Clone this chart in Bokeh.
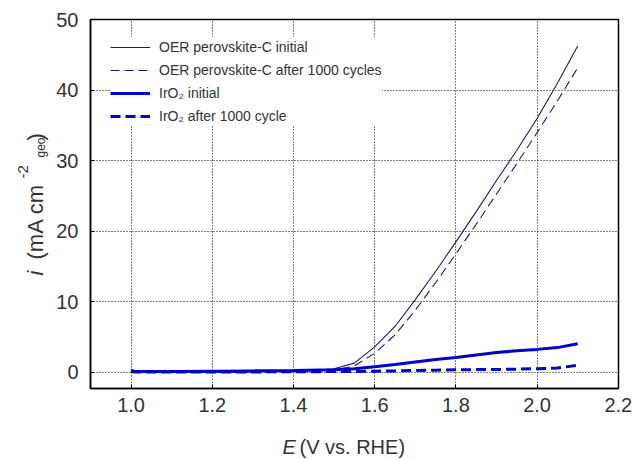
import math
from bokeh.plotting import figure
from bokeh.models import Range1d, FixedTicker, Legend, LegendItem
from bokeh.layouts import row, column
from bokeh.core.properties import value
from bokeh.embed import file_html
from bokeh.resources import INLINE

# ---- data ----
E_oer = [1.0, 1.1, 1.2, 1.3, 1.4, 1.45, 1.5, 1.55, 1.6, 1.65, 1.7, 1.75, 1.8, 1.85, 1.9, 1.95, 2.0, 2.05, 2.1]
oer_initial = [0.05, 0.05, 0.05, 0.1, 0.15, 0.25, 0.5, 1.3, 3.6, 6.5, 10.3, 14.3, 18.5, 22.8, 27.2, 31.5, 36.0, 41.0, 46.3]
oer_after = [0.05, 0.05, 0.05, 0.08, 0.12, 0.18, 0.3, 0.9, 2.7, 5.3, 8.8, 12.7, 16.8, 21.0, 25.3, 29.6, 34.0, 38.5, 43.2]

E_ir = [1.0, 1.01, 1.1, 1.2, 1.3, 1.4, 1.5, 1.55, 1.6, 1.65, 1.7, 1.75, 1.8, 1.85, 1.9, 1.95, 2.0, 2.05, 2.1]
ir_initial = [0.3, 0.1, 0.1, 0.15, 0.2, 0.25, 0.35, 0.5, 0.8, 1.1, 1.45, 1.8, 2.1, 2.45, 2.8, 3.05, 3.25, 3.5, 4.05]
ir_after = [0.1, 0.05, 0.05, 0.05, 0.05, 0.08, 0.1, 0.12, 0.15, 0.2, 0.25, 0.3, 0.35, 0.38, 0.4, 0.45, 0.5, 0.6, 1.0]

x_ticks = [1.0, 1.2, 1.4, 1.6, 1.8, 2.0, 2.2]
y_ticks = [0, 10, 20, 30, 40, 50]
legend_labels = ["OER perovskite-C initial", "OER perovskite-C after 1000 cycles",
                 "IrO\u2082 initial", "IrO\u2082 after 1000 cycle"]

FONT = "Liberation Sans"
TXT = "#333333"

X0, X1 = 0.9, 2.2005
Y0, Y1 = -2.3, 50.05

W, H = 634, 459
LW = 50          # width of the left title strip
BH = 32          # height of the bottom title strip
TH = H - BH      # height of the top row
FL, FT, FW, FH = 90, 19, 528, 369   # frame position on the page

p = figure(width=W - LW, height=TH, output_backend="svg", toolbar_location=None,
           x_range=Range1d(X0, X1), y_range=Range1d(Y0, Y1),
           min_border_left=FL - LW, min_border_top=FT,
           min_border_right=W - FL - FW, min_border_bottom=TH - FT - FH)
p.background_fill_color = "white"
p.border_fill_color = "white"
p.outline_line_color = "black"
p.outline_line_width = 1.5

for ax in (p.xaxis[0], p.yaxis[0]):
    ax.major_tick_in = 4
    ax.major_tick_out = 0
    ax.minor_tick_line_color = None
    ax.axis_line_color = "black"
    ax.axis_line_width = 1.5
    ax.major_tick_line_color = "black"
    ax.major_label_text_font = FONT
    ax.major_label_text_font_size = "20px"
    ax.major_label_text_color = TXT
p.xaxis[0].major_label_standoff = 9
p.yaxis[0].major_label_standoff = 12
p.xaxis[0].ticker = FixedTicker(ticks=x_ticks)
p.yaxis[0].ticker = FixedTicker(ticks=y_ticks)
p.xaxis[0].major_label_overrides = {t: f"{t:.1f}" for t in x_ticks}

for g in (p.xgrid[0], p.ygrid[0]):
    g.grid_line_color = "black"
    g.grid_line_dash = "1 2"
    g.grid_line_width = 1

NAVY = "#1a1a6e"
BLUE = "#0000c8"
r1 = p.line(E_oer, oer_initial, line_color=NAVY, line_width=1.1)
r2 = p.line(E_oer, oer_after, line_color=NAVY, line_width=1.1, line_dash="9 5")
r3 = p.line(E_ir, ir_initial, line_color=BLUE, line_width=3)
r4 = p.line(E_ir, ir_after, line_color=BLUE, line_width=3, line_dash="10 5")

legend = Legend(items=[LegendItem(label=lab, renderers=[r]) for lab, r in zip(legend_labels, [r1, r2, r3, r4])],
                location=(20, 262), margin=0, padding=10, spacing=3,
                glyph_width=40, glyph_height=20, label_standoff=9,
                label_text_font=FONT, label_text_font_size="14px", label_text_color=TXT,
                border_line_color=None, background_fill_color="white", background_fill_alpha=1)
p.add_layout(legend)


def strip(w, h):
    f = figure(width=w, height=h, frame_width=w, frame_height=h, title=None,
               output_backend="svg", toolbar_location=None,
               x_range=Range1d(0, w), y_range=Range1d(0, h),
               x_axis_type=None, y_axis_type=None, min_border=0)
    f.outline_line_color = None
    f.background_fill_color = "white"
    f.border_fill_color = "white"
    f.grid.visible = False
    return f


# left strip: rotated y-axis title (positions measured from the strip's top)
left = strip(LW, TH)
rot = math.pi / 2
ypieces = [("i", 35, 256, "22px", "italic"),
           ("(mA cm", 35, 240, "22px", "normal"),
           ("-2", 22, 159, "15px", "normal"),
           ("geo", 40, 138, "12px", "normal"),
           (")", 35, 121, "22px", "normal")]
for t, px, py, sz, st in ypieces:
    left.text(x=[px], y=[TH - py], text=[t], angle=rot, text_font=value(FONT),
              text_font_size=sz, text_font_style=st, text_color=TXT,
              text_align="left", text_baseline="alphabetic")

# bottom strip (full width): x-axis title
bottom = strip(W, BH)
xpieces = [("E", 282, 446, "italic"), ("(V vs. RHE)", 299, 446, "normal")]
for t, px, py, st in xpieces:
    bottom.text(x=[px], y=[BH - (py - TH)], text=[t], text_font=value(FONT),
                text_font_size="20px", text_font_style=st, text_color=TXT,
                text_align="left", text_baseline="alphabetic")

layout = column(row(left, p, spacing=0), bottom, spacing=0)
open("out.html", "w").write(file_html(layout, INLINE))
